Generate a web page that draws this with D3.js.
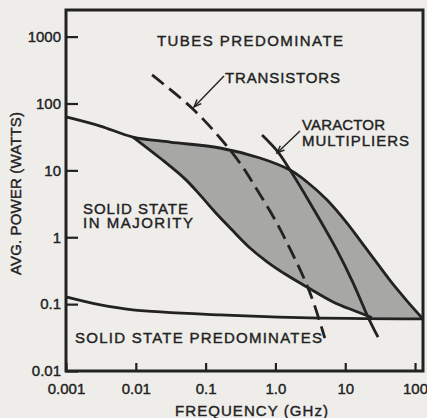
<!DOCTYPE html>
<html>
<head>
<meta charset="utf-8">
<script src="https://cdn.jsdelivr.net/npm/d3@7"></script>
<style>
  html, body { margin: 0; padding: 0; background: #eeedea; }
  svg { display: block; }
  text { font-family: "Liberation Sans", Arial, sans-serif; fill: #222; }
</style>
</head>
<body>
<script>
// axis ticks
var xTicks = [0.001, 0.01, 0.1, 1, 10, 100];
var xTickLabels = ["0.001", "0.01", "0.1", "1.0", "10", "100"];
var yTicks = [0.01, 0.1, 1, 10, 100, 1000];
var yTickLabels = ["0.01", "0.1", "1", "10", "100", "1000"];

// curves: [frequency GHz, power W]
var upperBound = [[0.001, 63], [0.0031, 46], [0.0091, 31.5], [0.031, 26.5], [0.16, 21.6], [0.6, 15.3],
  [1.62, 10.1], [2.84, 6.7], [5.5, 3.6], [10.6, 1.63], [16.3, 0.9], [28.6, 0.41], [48, 0.2], [77, 0.111], [130, 0.06]];
var lowerBound = [[0.0091, 31.5], [0.0222, 15.3], [0.051, 7.4], [0.083, 4.3], [0.136, 2.38], [0.24, 1.28],
  [0.42, 0.71], [0.76, 0.43], [1.47, 0.27], [2.84, 0.18], [6.7, 0.108], [13.8, 0.079], [24, 0.063]];
var bottomLine = [[0.001, 0.128], [0.003, 0.098], [0.009, 0.082], [0.16, 0.069], [2.2, 0.063], [130, 0.06]];
var transistors = [[0.0171, 267], [0.064, 85], [0.161, 30.5], [0.31, 12.9], [0.56, 4.9], [0.99, 1.81],
  [1.62, 0.67], [2.48, 0.263], [3.46, 0.111], [5.1, 0.031]];
var varactors = [[0.643, 33.8], [1.09, 18.8], [1.62, 10.1], [3.13, 3.25], [7.6, 0.64], [12.9, 0.21],
  [21.2, 0.064], [29.5, 0.032]];

var W = 427, H = 418;
var mL = 66, mR = 423, mT = 10, mB = 371;
var ink = "#222";

var svg = d3.select("body").append("svg")
  .attr("width", W)
  .attr("height", H);

svg.append("rect").attr("width", W).attr("height", H).attr("fill", "#eeedea");

var x = d3.scaleLog().domain([0.001, 130]).range([mL, mR]);
var y = d3.scaleLog().domain([0.01, 2500]).range([mB, mT]);

var line = d3.line()
  .x(function(d) { return x(d[0]); })
  .y(function(d) { return y(d[1]); })
  .curve(d3.curveCatmullRom.alpha(0.5));

// shaded band: upper bound from branch point, then lower bound back
var branchF = lowerBound[0][0];
var upperPart = upperBound.filter(function(d) { return d[0] >= branchF; });
var lowerRev = lowerBound.slice().reverse();
var bandPath = line(upperPart) + line(lowerRev).replace(/^M/, "L") + "Z";

svg.append("path")
  .attr("d", bandPath)
  .attr("fill", "#a7a7a5");

// axes (inside ticks)
var yAxis = d3.axisLeft(y)
  .tickValues(yTicks)
  .tickSize(-12)
  .tickPadding(5)
  .tickFormat(function(d, i) { return yTickLabels[i]; });

var xAxis = d3.axisBottom(x)
  .tickValues(xTicks)
  .tickSize(-8)
  .tickPadding(12)
  .tickFormat(function(d, i) { return xTickLabels[i]; });

var gy = svg.append("g").attr("transform", "translate(" + mL + ",0)").call(yAxis);
var gx = svg.append("g").attr("transform", "translate(0," + mB + ")").call(xAxis);

[gx, gy].forEach(function(g) {
  g.select(".domain").remove();
  g.selectAll("line").attr("stroke", ink).attr("stroke-width", 2.2);
  g.selectAll("text")
    .attr("font-size", 15)
    .attr("fill", ink)
    .attr("stroke", ink)
    .attr("stroke-width", 0.4);
});

// curves
var solid = [upperBound, lowerBound, bottomLine, varactors];
svg.selectAll(".curve")
  .data(solid)
  .enter()
  .append("path")
  .attr("class", "curve")
  .attr("d", line)
  .attr("fill", "none")
  .attr("stroke", ink)
  .attr("stroke-width", 2.8);

svg.append("path")
  .attr("d", line(transistors))
  .attr("fill", "none")
  .attr("stroke", ink)
  .attr("stroke-width", 2.8)
  .attr("stroke-dasharray", "15,7");

// frame
svg.append("rect")
  .attr("x", mL)
  .attr("y", mT)
  .attr("width", mR - mL)
  .attr("height", mB - mT)
  .attr("fill", "none")
  .attr("stroke", ink)
  .attr("stroke-width", 3);

// labels
var labels = [
  { t: "TUBES PREDOMINATE", x: 157, y: 45.5, w: 186 },
  { t: "TRANSISTORS", x: 225, y: 83, w: 115 },
  { t: "VARACTOR", x: 302, y: 130, w: 83 },
  { t: "MULTIPLIERS", x: 302, y: 145.5, w: 107 },
  { t: "SOLID STATE", x: 83, y: 214, w: 105 },
  { t: "IN MAJORITY", x: 83, y: 227.5, w: 110 },
  { t: "SOLID STATE PREDOMINATES", x: 75, y: 343, w: 247 },
  { t: "FREQUENCY (GHz)", x: 175, y: 416, w: 153 }
];

svg.selectAll(".lbl")
  .data(labels)
  .enter()
  .append("text")
  .attr("class", "lbl")
  .attr("x", function(d) { return d.x; })
  .attr("y", function(d) { return d.y; })
  .attr("font-size", 15)
  .attr("stroke", ink)
  .attr("stroke-width", 0.4)
  .attr("textLength", function(d) { return d.w; })
  .attr("lengthAdjust", "spacing")
  .text(function(d) { return d.t; });

svg.append("text")
  .attr("transform", "translate(20.5,193.5) rotate(-90)")
  .attr("text-anchor", "middle")
  .attr("font-size", 15)
  .attr("stroke", ink)
  .attr("stroke-width", 0.4)
  .attr("textLength", 163)
  .attr("lengthAdjust", "spacing")
  .text("AVG. POWER (WATTS)");

// leader arrows
function arrow(x1, y1, x2, y2) {
  var a = Math.atan2(y2 - y1, x2 - x1);
  var len = 8, spread = 0.38;
  svg.append("line")
    .attr("x1", x1).attr("y1", y1).attr("x2", x2).attr("y2", y2)
    .attr("stroke", ink).attr("stroke-width", 1.4);
  var pts = [
    [x2 - len * Math.cos(a - spread), y2 - len * Math.sin(a - spread)],
    [x2, y2],
    [x2 - len * Math.cos(a + spread), y2 - len * Math.sin(a + spread)]
  ];
  svg.append("path")
    .attr("d", d3.line()(pts))
    .attr("fill", "none")
    .attr("stroke", ink)
    .attr("stroke-width", 1.4);
}

arrow(224, 76, 194, 107);
arrow(300, 131, 277, 153);
</script>
</body>
</html>
